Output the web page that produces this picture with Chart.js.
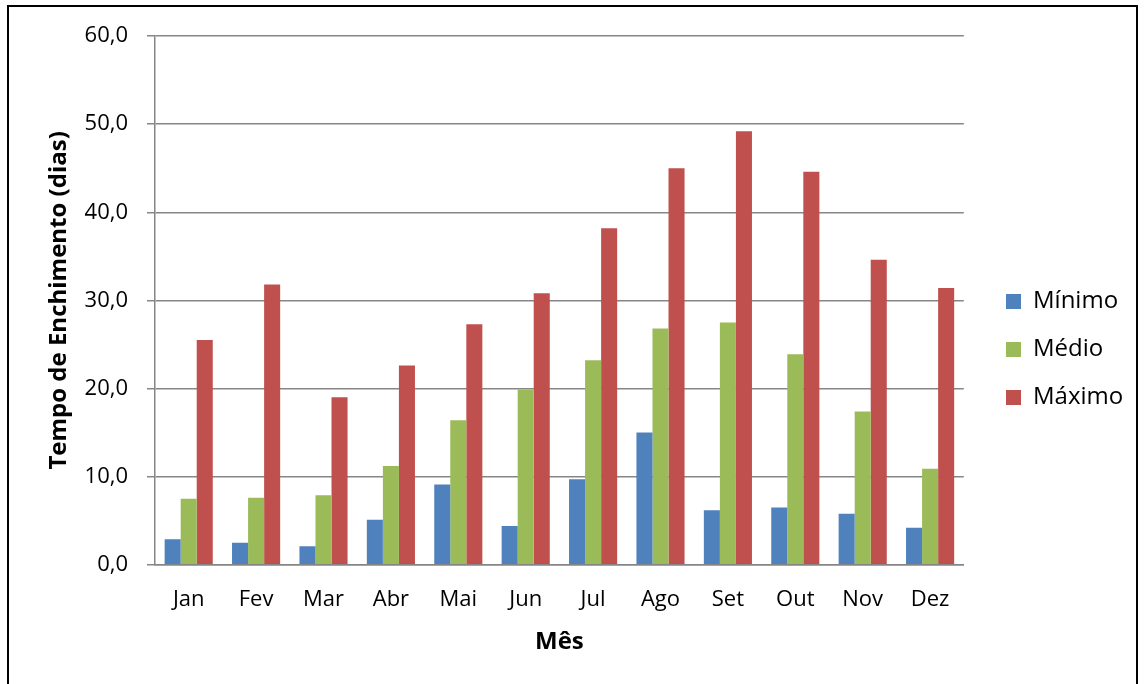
<!DOCTYPE html>
<html>
<head>
<meta charset="utf-8">
<script src="https://cdn.jsdelivr.net/npm/chart.js@4"></script>
<style>
  html, body { margin: 0; padding: 0; background: #fff; overflow: hidden; }
  #wrap { position: absolute; left: 0; top: 0; width: 1144px; height: 684px; }
  #frame { position: absolute; left: 7px; top: 5px; width: 1131px; height: 700px; border: 2px solid #000; box-sizing: border-box; pointer-events: none; }
</style>
</head>
<body>
<div id="wrap">
  <canvas id="myChart" width="1144" height="684"></canvas>
  <div id="frame"></div>
</div>
<script>
// tempo de enchimento por mês (dias)
var meses = ["Jan","Fev","Mar","Abr","Mai","Jun","Jul","Ago","Set","Out","Nov","Dez"]
var minimo = [2.9, 2.5, 2.1, 5.1, 9.1, 4.4, 9.7, 15.0, 6.2, 6.5, 5.8, 4.2]
var medio  = [7.5, 7.6, 7.9, 11.2, 16.4, 19.9, 23.2, 26.8, 27.5, 23.9, 17.4, 10.9]
var maximo = [25.5, 31.8, 19.0, 22.6, 27.3, 30.8, 38.2, 45.0, 49.2, 44.6, 34.6, 31.4]

Chart.defaults.font.family = "'Open Sans', sans-serif"
Chart.defaults.font.size = 22
Chart.defaults.color = "#000"

// empurra a legenda para a direita (e um pouco para baixo) sem mexer na área do gráfico
const legendaShift = {
  id: 'legendaShift',
  afterLayout(chart) {
    const lg = chart.legend
    if (!lg) return
    const d = 1006 - (lg.left + lg.options.labels.padding)
    lg.left += d
    lg.right += d
    lg.top += 3
    lg.bottom += 3
  }
}

const ctx = document.getElementById('myChart')

new Chart(ctx, {
  type: 'bar',
  data: {
    labels: meses,
    datasets: [
      { label: 'Mínimo', data: minimo, backgroundColor: '#4F81BD' },
      { label: 'Médio', data: medio, backgroundColor: '#9BBB59' },
      { label: 'Máximo', data: maximo, backgroundColor: '#C0504D' }
    ]
  },
  plugins: [legendaShift],
  options: {
    responsive: false,
    animation: false,
    layout: { padding: { left: 0, top: 36, right: 29, bottom: 27 } },
    datasets: { bar: { categoryPercentage: 0.714, barPercentage: 1.0 } },
    plugins: {
      tooltip: { enabled: false },
      legend: {
        position: 'right',
        labels: { boxWidth: 15, boxHeight: 15, padding: 24, font: { size: 24 } }
      }
    },
    scales: {
      x: {
        grid: { display: false },
        border: { display: true, color: '#868686', width: 1.5 },
        ticks: { padding: 14 },
        title: { display: true, text: 'Mês', font: { size: 24, weight: 'bold' }, padding: { top: 1, bottom: 0 } }
      },
      y: {
        min: 0,
        max: 60,
        afterFit: function(s) { s.width = 155 },
        ticks: {
          stepSize: 10,
          padding: 19,
          callback: function(v) { return v.toFixed(1).replace('.', ',') }
        },
        grid: { color: '#868686', lineWidth: 1.5, tickLength: 8 },
        border: { color: '#868686', width: 1.5 },
        title: { display: true, text: 'Tempo de Enchimento (dias)', font: { size: 24, weight: 'bold' }, padding: { top: 45 } }
      }
    }
  }
})
</script>
</body>
</html>
